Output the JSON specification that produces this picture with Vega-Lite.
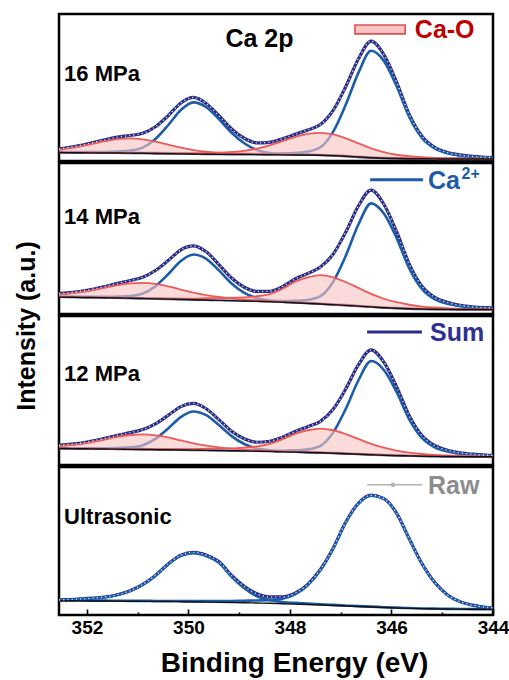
{
  "$schema": "https://vega.github.io/schema/vega-lite/v6.json",
  "background": "white",
  "padding": {"left": 13, "top": 12, "right": 1, "bottom": 45},
  "spacing": 2,
  "bounds": "flush",
  "config": {
    "view": {"stroke": "#000000", "strokeWidth": 2.5},
    "font": "Liberation Sans"
  },
  "datasets": {
    "xps": [
      {"panel": "16 MPa", "energy": 352.55, "background": 8.5, "ca1": 8.9, "ca2": 8.8, "cao1": 11.5, "cao2": 8.6, "sum": 12.3, "raw": 12.3},
      {"panel": "16 MPa", "energy": 352.4, "background": 8.4, "ca1": 8.9, "ca2": 8.7, "cao1": 12.4, "cao2": 8.5, "sum": 13.3, "raw": 13.3},
      {"panel": "16 MPa", "energy": 352.15, "background": 8.3, "ca1": 8.9, "ca2": 8.6, "cao1": 14.5, "cao2": 8.4, "sum": 15.5, "raw": 15.5},
      {"panel": "16 MPa", "energy": 351.9, "background": 8.2, "ca1": 9.0, "ca2": 8.5, "cao1": 17.2, "cao2": 8.3, "sum": 18.4, "raw": 18.4},
      {"panel": "16 MPa", "energy": 351.65, "background": 8.1, "ca1": 9.1, "ca2": 8.4, "cao1": 19.9, "cao2": 8.2, "sum": 21.3, "raw": 21.3},
      {"panel": "16 MPa", "energy": 351.4, "background": 8.0, "ca1": 9.6, "ca2": 8.3, "cao1": 22.0, "cao2": 8.1, "sum": 24.0, "raw": 24.0},
      {"panel": "16 MPa", "energy": 351.15, "background": 7.9, "ca1": 10.5, "ca2": 8.2, "cao1": 22.7, "cao2": 8.0, "sum": 25.7, "raw": 25.7},
      {"panel": "16 MPa", "energy": 350.9, "background": 7.8, "ca1": 13.5, "ca2": 8.1, "cao1": 21.8, "cao2": 7.9, "sum": 27.9, "raw": 27.9},
      {"panel": "16 MPa", "energy": 350.65, "background": 7.6, "ca1": 22.2, "ca2": 7.9, "cao1": 19.4, "cao2": 7.8, "sum": 34.5, "raw": 34.5},
      {"panel": "16 MPa", "energy": 350.4, "background": 7.4, "ca1": 36.0, "ca2": 7.7, "cao1": 16.4, "cao2": 7.7, "sum": 45.6, "raw": 45.6},
      {"panel": "16 MPa", "energy": 350.15, "background": 7.2, "ca1": 51.4, "ca2": 7.5, "cao1": 13.4, "cao2": 7.7, "sum": 58.4, "raw": 58.4},
      {"panel": "16 MPa", "energy": 349.9, "background": 7.0, "ca1": 59.0, "ca2": 7.3, "cao1": 11.0, "cao2": 7.7, "sum": 64.0, "raw": 64.0},
      {"panel": "16 MPa", "energy": 349.65, "background": 6.8, "ca1": 54.1, "ca2": 7.1, "cao1": 9.3, "cao2": 7.8, "sum": 57.9, "raw": 57.9},
      {"panel": "16 MPa", "energy": 349.4, "background": 6.7, "ca1": 42.1, "ca2": 7.0, "cao1": 8.3, "cao2": 8.3, "sum": 45.6, "raw": 45.6},
      {"panel": "16 MPa", "energy": 349.15, "background": 6.6, "ca1": 28.4, "ca2": 7.0, "cao1": 7.6, "cao2": 9.1, "sum": 32.3, "raw": 32.3},
      {"panel": "16 MPa", "energy": 348.9, "background": 6.5, "ca1": 17.9, "ca2": 7.0, "cao1": 7.2, "cao2": 10.3, "sum": 22.9, "raw": 22.9},
      {"panel": "16 MPa", "energy": 348.65, "background": 6.4, "ca1": 11.1, "ca2": 7.0, "cao1": 6.8, "cao2": 12.5, "sum": 18.2, "raw": 18.2},
      {"panel": "16 MPa", "energy": 348.4, "background": 6.3, "ca1": 8.1, "ca2": 7.2, "cao1": 6.6, "cao2": 15.8, "sum": 18.8, "raw": 18.8},
      {"panel": "16 MPa", "energy": 348.15, "background": 6.2, "ca1": 7.2, "ca2": 7.5, "cao1": 6.4, "cao2": 19.9, "sum": 22.4, "raw": 22.4},
      {"panel": "16 MPa", "energy": 347.9, "background": 6.1, "ca1": 6.7, "ca2": 8.1, "cao1": 6.2, "cao2": 24.1, "sum": 26.8, "raw": 26.8},
      {"panel": "16 MPa", "energy": 347.65, "background": 6.0, "ca1": 6.4, "ca2": 9.5, "cao1": 6.1, "cao2": 27.3, "sum": 31.3, "raw": 31.3},
      {"panel": "16 MPa", "energy": 347.4, "background": 5.8, "ca1": 6.1, "ca2": 13.8, "cao1": 5.9, "cao2": 28.3, "sum": 36.7, "raw": 36.7},
      {"panel": "16 MPa", "energy": 347.15, "background": 5.4, "ca1": 5.7, "ca2": 29.4, "cao1": 5.4, "cao2": 26.7, "sum": 51.0, "raw": 51.0},
      {"panel": "16 MPa", "energy": 346.9, "background": 4.8, "ca1": 5.0, "ca2": 56.8, "cao1": 4.8, "cao2": 22.8, "sum": 75.0, "raw": 75.0},
      {"panel": "16 MPa", "energy": 346.65, "background": 4.0, "ca1": 4.2, "ca2": 89.0, "cao1": 4.0, "cao2": 17.7, "sum": 102.9, "raw": 102.9},
      {"panel": "16 MPa", "energy": 346.4, "background": 3.3, "ca1": 3.5, "ca2": 111.0, "cao1": 3.3, "cao2": 12.8, "sum": 120.7, "raw": 120.7},
      {"panel": "16 MPa", "energy": 346.15, "background": 2.8, "ca1": 3.0, "ca2": 100.8, "cao1": 2.8, "cao2": 8.9, "sum": 107.1, "raw": 107.1},
      {"panel": "16 MPa", "energy": 345.9, "background": 2.5, "ca1": 2.7, "ca2": 75.5, "cao1": 2.5, "cao2": 6.3, "sum": 79.5, "raw": 79.5},
      {"panel": "16 MPa", "energy": 345.65, "background": 2.3, "ca1": 2.4, "ca2": 44.3, "cao1": 2.3, "cao2": 4.8, "sum": 46.9, "raw": 46.9},
      {"panel": "16 MPa", "energy": 345.4, "background": 2.2, "ca1": 2.3, "ca2": 23.2, "cao1": 2.2, "cao2": 3.8, "sum": 24.9, "raw": 24.9},
      {"panel": "16 MPa", "energy": 345.15, "background": 2.1, "ca1": 2.2, "ca2": 12.6, "cao1": 2.1, "cao2": 3.1, "sum": 13.7, "raw": 13.7},
      {"panel": "16 MPa", "energy": 344.9, "background": 2.0, "ca1": 2.1, "ca2": 7.8, "cao1": 2.0, "cao2": 2.7, "sum": 8.6, "raw": 8.6},
      {"panel": "16 MPa", "energy": 344.65, "background": 2.0, "ca1": 2.1, "ca2": 5.5, "cao1": 2.0, "cao2": 2.5, "sum": 6.1, "raw": 6.1},
      {"panel": "16 MPa", "energy": 344.4, "background": 2.0, "ca1": 2.1, "ca2": 4.2, "cao1": 2.0, "cao2": 2.3, "sum": 4.6, "raw": 4.6},
      {"panel": "16 MPa", "energy": 344.15, "background": 2.0, "ca1": 2.1, "ca2": 3.5, "cao1": 2.0, "cao2": 2.2, "sum": 3.8, "raw": 3.8},
      {"panel": "16 MPa", "energy": 344.0, "background": 2.0, "ca1": 2.1, "ca2": 3.2, "cao1": 2.0, "cao2": 2.1, "sum": 3.4, "raw": 3.4},

      {"panel": "14 MPa", "energy": 352.55, "background": 17.2, "ca1": 17.6, "ca2": 17.5, "cao1": 19.9, "cao2": 17.4, "sum": 20.8, "raw": 20.8},
      {"panel": "14 MPa", "energy": 352.4, "background": 17.1, "ca1": 17.5, "ca2": 17.4, "cao1": 20.5, "cao2": 17.3, "sum": 21.4, "raw": 21.4},
      {"panel": "14 MPa", "energy": 352.15, "background": 16.9, "ca1": 17.4, "ca2": 17.2, "cao1": 21.9, "cao2": 17.1, "sum": 22.9, "raw": 22.9},
      {"panel": "14 MPa", "energy": 351.9, "background": 16.7, "ca1": 17.4, "ca2": 17.0, "cao1": 23.9, "cao2": 16.9, "sum": 25.1, "raw": 25.1},
      {"panel": "14 MPa", "energy": 351.65, "background": 16.5, "ca1": 17.4, "ca2": 16.8, "cao1": 26.6, "cao2": 16.7, "sum": 28.0, "raw": 28.0},
      {"panel": "14 MPa", "energy": 351.4, "background": 16.3, "ca1": 17.7, "ca2": 16.6, "cao1": 29.3, "cao2": 16.5, "sum": 31.2, "raw": 31.2},
      {"panel": "14 MPa", "energy": 351.15, "background": 16.0, "ca1": 18.3, "ca2": 16.3, "cao1": 31.2, "cao2": 16.2, "sum": 34.0, "raw": 34.0},
      {"panel": "14 MPa", "energy": 350.9, "background": 15.7, "ca1": 20.8, "ca2": 16.0, "cao1": 31.7, "cao2": 16.0, "sum": 37.4, "raw": 37.4},
      {"panel": "14 MPa", "energy": 350.65, "background": 15.4, "ca1": 28.3, "ca2": 15.7, "cao1": 30.6, "cao2": 15.8, "sum": 44.2, "raw": 44.2},
      {"panel": "14 MPa", "energy": 350.4, "background": 15.1, "ca1": 40.4, "ca2": 15.4, "cao1": 28.1, "cao2": 15.7, "sum": 54.3, "raw": 54.3},
      {"panel": "14 MPa", "energy": 350.15, "background": 14.8, "ca1": 53.9, "ca2": 15.1, "cao1": 24.9, "cao2": 15.7, "sum": 65.2, "raw": 65.2},
      {"panel": "14 MPa", "energy": 349.9, "background": 14.5, "ca1": 60.5, "ca2": 14.8, "cao1": 21.7, "cao2": 15.7, "sum": 69.2, "raw": 69.2},
      {"panel": "14 MPa", "energy": 349.65, "background": 14.2, "ca1": 56.1, "ca2": 14.5, "cao1": 19.2, "cao2": 16.0, "sum": 63.2, "raw": 63.2},
      {"panel": "14 MPa", "energy": 349.4, "background": 13.9, "ca1": 44.3, "ca2": 14.2, "cao1": 17.3, "cao2": 16.2, "sum": 50.3, "raw": 50.3},
      {"panel": "14 MPa", "energy": 349.15, "background": 13.6, "ca1": 31.1, "ca2": 14.0, "cao1": 15.8, "cao2": 16.5, "sum": 36.6, "raw": 36.6},
      {"panel": "14 MPa", "energy": 348.9, "background": 13.2, "ca1": 21.5, "ca2": 13.7, "cao1": 14.6, "cao2": 17.0, "sum": 27.2, "raw": 27.2},
      {"panel": "14 MPa", "energy": 348.65, "background": 12.8, "ca1": 16.0, "ca2": 13.4, "cao1": 13.8, "cao2": 18.1, "sum": 22.9, "raw": 22.9},
      {"panel": "14 MPa", "energy": 348.4, "background": 12.4, "ca1": 13.8, "ca2": 13.2, "cao1": 13.0, "cao2": 20.3, "sum": 23.1, "raw": 23.1},
      {"panel": "14 MPa", "energy": 348.15, "background": 11.9, "ca1": 12.6, "ca2": 13.2, "cao1": 12.3, "cao2": 25.4, "sum": 27.8, "raw": 27.8},
      {"panel": "14 MPa", "energy": 347.9, "background": 11.4, "ca1": 11.9, "ca2": 13.4, "cao1": 11.7, "cao2": 32.8, "sum": 35.6, "raw": 35.6},
      {"panel": "14 MPa", "energy": 347.65, "background": 10.8, "ca1": 11.1, "ca2": 14.3, "cao1": 11.0, "cao2": 37.2, "sum": 41.2, "raw": 41.2},
      {"panel": "14 MPa", "energy": 347.4, "background": 10.2, "ca1": 10.4, "ca2": 18.1, "cao1": 10.3, "cao2": 39.5, "sum": 47.7, "raw": 47.7},
      {"panel": "14 MPa", "energy": 347.15, "background": 9.5, "ca1": 9.7, "ca2": 32.7, "cao1": 9.6, "cao2": 37.3, "sum": 60.8, "raw": 60.8},
      {"panel": "14 MPa", "energy": 346.9, "background": 8.8, "ca1": 9.0, "ca2": 59.3, "cao1": 8.9, "cao2": 32.5, "sum": 83.3, "raw": 83.3},
      {"panel": "14 MPa", "energy": 346.65, "background": 8.0, "ca1": 8.2, "ca2": 91.2, "cao1": 8.1, "cao2": 26.5, "sum": 110.0, "raw": 110.0},
      {"panel": "14 MPa", "energy": 346.4, "background": 7.2, "ca1": 7.4, "ca2": 112.5, "cao1": 7.3, "cao2": 20.4, "sum": 126.0, "raw": 126.0},
      {"panel": "14 MPa", "energy": 346.15, "background": 6.4, "ca1": 6.6, "ca2": 102.2, "cao1": 6.5, "cao2": 15.5, "sum": 111.6, "raw": 111.6},
      {"panel": "14 MPa", "energy": 345.9, "background": 5.8, "ca1": 6.0, "ca2": 77.4, "cao1": 5.9, "cao2": 12.0, "sum": 83.9, "raw": 83.9},
      {"panel": "14 MPa", "energy": 345.65, "background": 5.3, "ca1": 5.4, "ca2": 46.4, "cao1": 5.4, "cao2": 9.4, "sum": 50.7, "raw": 50.7},
      {"panel": "14 MPa", "energy": 345.4, "background": 5.0, "ca1": 5.1, "ca2": 25.5, "cao1": 5.1, "cao2": 7.6, "sum": 28.3, "raw": 28.3},
      {"panel": "14 MPa", "energy": 345.15, "background": 4.8, "ca1": 4.9, "ca2": 15.0, "cao1": 4.9, "cao2": 6.6, "sum": 17.0, "raw": 17.0},
      {"panel": "14 MPa", "energy": 344.9, "background": 4.7, "ca1": 4.8, "ca2": 10.4, "cao1": 4.8, "cao2": 5.9, "sum": 11.8, "raw": 11.8},
      {"panel": "14 MPa", "energy": 344.65, "background": 4.6, "ca1": 4.7, "ca2": 8.0, "cao1": 4.7, "cao2": 5.3, "sum": 8.9, "raw": 8.9},
      {"panel": "14 MPa", "energy": 344.4, "background": 4.5, "ca1": 4.6, "ca2": 6.6, "cao1": 4.6, "cao2": 5.0, "sum": 7.3, "raw": 7.3},
      {"panel": "14 MPa", "energy": 344.15, "background": 4.5, "ca1": 4.6, "ca2": 6.0, "cao1": 4.6, "cao2": 4.8, "sum": 6.5, "raw": 6.5},
      {"panel": "14 MPa", "energy": 344.0, "background": 4.5, "ca1": 4.6, "ca2": 5.7, "cao1": 4.6, "cao2": 4.8, "sum": 6.2, "raw": 6.2},

      {"panel": "12 MPa", "energy": 352.55, "background": 16.7, "ca1": 17.0, "ca2": 17.0, "cao1": 19.3, "cao2": 16.8, "sum": 20.0, "raw": 20.0},
      {"panel": "12 MPa", "energy": 352.4, "background": 16.6, "ca1": 17.0, "ca2": 16.9, "cao1": 19.8, "cao2": 16.7, "sum": 20.6, "raw": 20.6},
      {"panel": "12 MPa", "energy": 352.15, "background": 16.4, "ca1": 16.8, "ca2": 16.7, "cao1": 21.1, "cao2": 16.5, "sum": 21.9, "raw": 21.9},
      {"panel": "12 MPa", "energy": 351.9, "background": 16.3, "ca1": 16.9, "ca2": 16.6, "cao1": 23.2, "cao2": 16.4, "sum": 24.2, "raw": 24.2},
      {"panel": "12 MPa", "energy": 351.65, "background": 16.1, "ca1": 16.9, "ca2": 16.4, "cao1": 25.7, "cao2": 16.2, "sum": 26.9, "raw": 26.9},
      {"panel": "12 MPa", "energy": 351.4, "background": 16.0, "ca1": 17.2, "ca2": 16.3, "cao1": 28.4, "cao2": 16.1, "sum": 30.0, "raw": 30.0},
      {"panel": "12 MPa", "energy": 351.15, "background": 15.8, "ca1": 17.8, "ca2": 16.1, "cao1": 30.3, "cao2": 15.9, "sum": 32.7, "raw": 32.7},
      {"panel": "12 MPa", "energy": 350.9, "background": 15.7, "ca1": 20.0, "ca2": 16.0, "cao1": 31.0, "cao2": 15.9, "sum": 35.8, "raw": 35.8},
      {"panel": "12 MPa", "energy": 350.65, "background": 15.5, "ca1": 26.4, "ca2": 15.8, "cao1": 30.0, "cao2": 15.9, "sum": 41.6, "raw": 41.6},
      {"panel": "12 MPa", "energy": 350.4, "background": 15.4, "ca1": 36.9, "ca2": 15.7, "cao1": 27.8, "cao2": 15.9, "sum": 50.1, "raw": 50.1},
      {"panel": "12 MPa", "energy": 350.15, "background": 15.2, "ca1": 48.4, "ca2": 15.5, "cao1": 24.8, "cao2": 15.9, "sum": 59.0, "raw": 59.0},
      {"panel": "12 MPa", "energy": 349.9, "background": 15.0, "ca1": 54.0, "ca2": 15.3, "cao1": 21.9, "cao2": 16.0, "sum": 62.2, "raw": 62.2},
      {"panel": "12 MPa", "energy": 349.65, "background": 14.8, "ca1": 50.3, "ca2": 15.1, "cao1": 19.5, "cao2": 16.3, "sum": 56.8, "raw": 56.8},
      {"panel": "12 MPa", "energy": 349.4, "background": 14.6, "ca1": 40.3, "ca2": 14.9, "cao1": 17.8, "cao2": 16.6, "sum": 45.8, "raw": 45.8},
      {"panel": "12 MPa", "energy": 349.15, "background": 14.4, "ca1": 29.2, "ca2": 14.8, "cao1": 16.5, "cao2": 16.8, "sum": 34.1, "raw": 34.1},
      {"panel": "12 MPa", "energy": 348.9, "background": 14.2, "ca1": 21.2, "ca2": 14.7, "cao1": 15.6, "cao2": 17.6, "sum": 26.5, "raw": 26.5},
      {"panel": "12 MPa", "energy": 348.65, "background": 13.9, "ca1": 16.6, "ca2": 14.5, "cao1": 14.8, "cao2": 18.8, "sum": 23.0, "raw": 23.0},
      {"panel": "12 MPa", "energy": 348.4, "background": 13.6, "ca1": 14.8, "ca2": 14.4, "cao1": 14.2, "cao2": 21.4, "sum": 24.0, "raw": 24.0},
      {"panel": "12 MPa", "energy": 348.15, "background": 13.3, "ca1": 13.9, "ca2": 14.4, "cao1": 13.7, "cao2": 26.0, "sum": 28.1, "raw": 28.1},
      {"panel": "12 MPa", "energy": 347.9, "background": 13.0, "ca1": 13.4, "ca2": 14.8, "cao1": 13.2, "cao2": 31.5, "sum": 33.9, "raw": 33.9},
      {"panel": "12 MPa", "energy": 347.65, "background": 12.7, "ca1": 13.0, "ca2": 15.8, "cao1": 12.9, "cao2": 35.1, "sum": 38.7, "raw": 38.7},
      {"panel": "12 MPa", "energy": 347.4, "background": 12.3, "ca1": 12.5, "ca2": 19.4, "cao1": 12.4, "cao2": 36.7, "sum": 44.1, "raw": 44.1},
      {"panel": "12 MPa", "energy": 347.15, "background": 11.9, "ca1": 12.1, "ca2": 32.7, "cao1": 12.0, "cao2": 35.1, "sum": 56.2, "raw": 56.2},
      {"panel": "12 MPa", "energy": 346.9, "background": 11.4, "ca1": 11.6, "ca2": 56.8, "cao1": 11.5, "cao2": 31.2, "sum": 76.9, "raw": 76.9},
      {"panel": "12 MPa", "energy": 346.65, "background": 10.9, "ca1": 11.1, "ca2": 85.6, "cao1": 11.0, "cao2": 26.3, "sum": 101.3, "raw": 101.3},
      {"panel": "12 MPa", "energy": 346.4, "background": 10.4, "ca1": 10.6, "ca2": 105.0, "cao1": 10.5, "cao2": 21.4, "sum": 116.3, "raw": 116.3},
      {"panel": "12 MPa", "energy": 346.15, "background": 9.9, "ca1": 10.1, "ca2": 96.0, "cao1": 10.0, "cao2": 17.5, "sum": 103.9, "raw": 103.9},
      {"panel": "12 MPa", "energy": 345.9, "background": 9.5, "ca1": 9.7, "ca2": 73.8, "cao1": 9.6, "cao2": 14.6, "sum": 79.2, "raw": 79.2},
      {"panel": "12 MPa", "energy": 345.65, "background": 9.2, "ca1": 9.4, "ca2": 46.1, "cao1": 9.3, "cao2": 12.6, "sum": 49.8, "raw": 49.8},
      {"panel": "12 MPa", "energy": 345.4, "background": 8.9, "ca1": 9.1, "ca2": 27.3, "cao1": 9.0, "cao2": 11.1, "sum": 29.8, "raw": 29.8},
      {"panel": "12 MPa", "energy": 345.15, "background": 8.7, "ca1": 8.9, "ca2": 17.9, "cao1": 8.8, "cao2": 10.2, "sum": 19.7, "raw": 19.7},
      {"panel": "12 MPa", "energy": 344.9, "background": 8.6, "ca1": 8.7, "ca2": 13.7, "cao1": 8.7, "cao2": 9.6, "sum": 14.9, "raw": 14.9},
      {"panel": "12 MPa", "energy": 344.65, "background": 8.5, "ca1": 8.6, "ca2": 11.5, "cao1": 8.6, "cao2": 9.1, "sum": 12.3, "raw": 12.3},
      {"panel": "12 MPa", "energy": 344.4, "background": 8.4, "ca1": 8.5, "ca2": 10.3, "cao1": 8.5, "cao2": 8.8, "sum": 10.9, "raw": 10.9},
      {"panel": "12 MPa", "energy": 344.15, "background": 8.3, "ca1": 8.4, "ca2": 9.6, "cao1": 8.4, "cao2": 8.5, "sum": 10.0, "raw": 10.0},
      {"panel": "12 MPa", "energy": 344.0, "background": 8.3, "ca1": 8.4, "ca2": 9.3, "cao1": 8.4, "cao2": 8.5, "sum": 9.7, "raw": 9.7},

      {"panel": "Ultrasonic", "energy": 352.55, "background": 14.5, "ca1": 15.0, "ca2": 14.7, "sum": 15.2, "raw": 15.2},
      {"panel": "Ultrasonic", "energy": 352.4, "background": 14.4, "ca1": 15.2, "ca2": 14.7, "sum": 15.5, "raw": 15.5},
      {"panel": "Ultrasonic", "energy": 352.15, "background": 14.3, "ca1": 15.9, "ca2": 14.6, "sum": 16.2, "raw": 16.2},
      {"panel": "Ultrasonic", "energy": 351.9, "background": 14.2, "ca1": 16.7, "ca2": 14.5, "sum": 17.0, "raw": 17.0},
      {"panel": "Ultrasonic", "energy": 351.65, "background": 14.1, "ca1": 17.8, "ca2": 14.5, "sum": 18.2, "raw": 18.2},
      {"panel": "Ultrasonic", "energy": 351.4, "background": 14.0, "ca1": 20.1, "ca2": 14.4, "sum": 20.5, "raw": 20.5},
      {"panel": "Ultrasonic", "energy": 351.15, "background": 13.9, "ca1": 24.1, "ca2": 14.3, "sum": 24.5, "raw": 24.5},
      {"panel": "Ultrasonic", "energy": 350.9, "background": 13.8, "ca1": 30.5, "ca2": 14.3, "sum": 31.0, "raw": 31.0},
      {"panel": "Ultrasonic", "energy": 350.65, "background": 13.7, "ca1": 39.5, "ca2": 14.2, "sum": 40.0, "raw": 40.0},
      {"panel": "Ultrasonic", "energy": 350.4, "background": 13.6, "ca1": 50.9, "ca2": 14.2, "sum": 51.5, "raw": 51.5},
      {"panel": "Ultrasonic", "energy": 350.15, "background": 13.4, "ca1": 59.8, "ca2": 14.1, "sum": 60.5, "raw": 60.5},
      {"panel": "Ultrasonic", "energy": 349.9, "background": 13.2, "ca1": 62.5, "ca2": 14.0, "sum": 63.3, "raw": 63.3},
      {"panel": "Ultrasonic", "energy": 349.65, "background": 13.0, "ca1": 59.5, "ca2": 14.0, "sum": 60.5, "raw": 60.5},
      {"panel": "Ultrasonic", "energy": 349.4, "background": 12.8, "ca1": 52.8, "ca2": 14.0, "sum": 54.0, "raw": 54.0},
      {"panel": "Ultrasonic", "energy": 349.15, "background": 12.6, "ca1": 38.5, "ca2": 14.1, "sum": 40.0, "raw": 40.0},
      {"panel": "Ultrasonic", "energy": 348.9, "background": 12.4, "ca1": 27.0, "ca2": 14.4, "sum": 29.0, "raw": 29.0},
      {"panel": "Ultrasonic", "energy": 348.65, "background": 12.1, "ca1": 18.9, "ca2": 14.7, "sum": 21.5, "raw": 21.5},
      {"panel": "Ultrasonic", "energy": 348.4, "background": 11.8, "ca1": 14.8, "ca2": 15.3, "sum": 18.3, "raw": 18.3},
      {"panel": "Ultrasonic", "energy": 348.15, "background": 11.4, "ca1": 13.2, "ca2": 16.5, "sum": 18.3, "raw": 18.3},
      {"panel": "Ultrasonic", "energy": 347.9, "background": 11.0, "ca1": 12.2, "ca2": 20.8, "sum": 22.0, "raw": 22.0},
      {"panel": "Ultrasonic", "energy": 347.65, "background": 10.6, "ca1": 11.5, "ca2": 30.1, "sum": 31.0, "raw": 31.0},
      {"panel": "Ultrasonic", "energy": 347.4, "background": 10.1, "ca1": 10.8, "ca2": 45.3, "sum": 46.0, "raw": 46.0},
      {"panel": "Ultrasonic", "energy": 347.15, "background": 9.6, "ca1": 10.2, "ca2": 66.9, "sum": 67.5, "raw": 67.5},
      {"panel": "Ultrasonic", "energy": 346.9, "background": 9.1, "ca1": 9.6, "ca2": 93.5, "sum": 94.0, "raw": 94.0},
      {"panel": "Ultrasonic", "energy": 346.65, "background": 8.6, "ca1": 9.0, "ca2": 112.6, "sum": 113.0, "raw": 113.0},
      {"panel": "Ultrasonic", "energy": 346.4, "background": 8.1, "ca1": 8.5, "ca2": 120.6, "sum": 121.0, "raw": 121.0},
      {"panel": "Ultrasonic", "energy": 346.15, "background": 7.6, "ca1": 7.9, "ca2": 117.2, "sum": 117.5, "raw": 117.5},
      {"panel": "Ultrasonic", "energy": 345.9, "background": 7.1, "ca1": 7.4, "ca2": 102.7, "sum": 103.0, "raw": 103.0},
      {"panel": "Ultrasonic", "energy": 345.65, "background": 6.7, "ca1": 7.0, "ca2": 76.7, "sum": 77.0, "raw": 77.0},
      {"panel": "Ultrasonic", "energy": 345.4, "background": 6.4, "ca1": 6.6, "ca2": 51.8, "sum": 52.0, "raw": 52.0},
      {"panel": "Ultrasonic", "energy": 345.15, "background": 6.2, "ca1": 6.4, "ca2": 32.8, "sum": 33.0, "raw": 33.0},
      {"panel": "Ultrasonic", "energy": 344.9, "background": 6.0, "ca1": 6.2, "ca2": 20.3, "sum": 20.5, "raw": 20.5},
      {"panel": "Ultrasonic", "energy": 344.65, "background": 5.9, "ca1": 6.1, "ca2": 13.3, "sum": 13.5, "raw": 13.5},
      {"panel": "Ultrasonic", "energy": 344.4, "background": 5.8, "ca1": 5.9, "ca2": 9.9, "sum": 10.0, "raw": 10.0},
      {"panel": "Ultrasonic", "energy": 344.15, "background": 5.8, "ca1": 5.9, "ca2": 7.7, "sum": 7.8, "raw": 7.8},
      {"panel": "Ultrasonic", "energy": 344.0, "background": 5.8, "ca1": 5.9, "ca2": 7.1, "sum": 7.2, "raw": 7.2}
    ]
  },
  "vconcat": [
    {
      "width": 434,
      "height": 147,
      "data": {"name": "xps"},
      "transform": [{"filter": {"field": "panel", "equal": "16 MPa"}}],
      "encoding": {
        "x": {"field": "energy", "type": "quantitative", "scale": {"domain": [344, 352.55], "reverse": true, "nice": false, "zero": false}, "axis": null}
      },
      "layer": [
        {"mark": {"type": "line", "interpolate": "monotone", "color": "#2b2d85", "strokeWidth": 3.2},
         "encoding": {"y": {"field": "sum", "type": "quantitative", "scale": {"domain": [0, 148], "nice": false, "zero": false}, "axis": null}}},
        {"mark": {"type": "line", "interpolate": "monotone", "color": "#1c5ca8", "strokeWidth": 2.6},
         "encoding": {"y": {"field": "ca1", "type": "quantitative", "axis": null}}},
        {"mark": {"type": "line", "interpolate": "monotone", "color": "#1c5ca8", "strokeWidth": 2.6},
         "encoding": {"y": {"field": "ca2", "type": "quantitative", "axis": null}}},
        {"mark": {"type": "area", "interpolate": "monotone", "color": "#f8c4c4", "opacity": 0.62},
         "encoding": {"y": {"field": "cao1", "type": "quantitative", "axis": null}, "y2": {"field": "background"}}},
        {"mark": {"type": "area", "interpolate": "monotone", "color": "#f8c4c4", "opacity": 0.62},
         "encoding": {"y": {"field": "cao2", "type": "quantitative", "axis": null}, "y2": {"field": "background"}}},
        {"mark": {"type": "line", "interpolate": "monotone", "color": "#ec5a5a", "strokeWidth": 1.8},
         "encoding": {"y": {"field": "cao1", "type": "quantitative", "axis": null}}},
        {"mark": {"type": "line", "interpolate": "monotone", "color": "#ec5a5a", "strokeWidth": 1.8},
         "encoding": {"y": {"field": "cao2", "type": "quantitative", "axis": null}}},
        {"mark": {"type": "line", "interpolate": "monotone", "color": "#111111", "strokeWidth": 1.4},
         "encoding": {"y": {"field": "background", "type": "quantitative", "axis": null}}},
        {"mark": {"type": "line", "interpolate": "monotone", "color": "#dcdce6", "strokeWidth": 1.4, "strokeDash": [1.2, 3]},
         "encoding": {"y": {"field": "raw", "type": "quantitative", "axis": null}}},
        {"transform": [{"filter": "datum.energy === 352.55"}],
         "mark": {"type": "text", "align": "left", "baseline": "alphabetic", "font": "Liberation Sans", "fontWeight": "bold", "fontSize": 22, "color": "#000000"},
         "encoding": {"x": {"datum": 352.45}, "y": {"datum": 81}, "text": {"value": "16 MPa"}}},
        {"transform": [{"filter": "datum.energy === 352.55"}],
         "mark": {"type": "text", "align": "center", "baseline": "alphabetic", "font": "Liberation Sans", "fontWeight": "bold", "fontSize": 25, "color": "#000000"},
         "encoding": {"x": {"datum": 348.6}, "y": {"datum": 114.3}, "text": {"value": "Ca 2p"}}},
        {"transform": [{"filter": "datum.energy === 352.55"}],
         "mark": {"type": "rect", "fill": "#f8c4c4", "stroke": "#e0504f", "strokeWidth": 1.6},
         "encoding": {"x": {"datum": 346.72}, "x2": {"datum": 345.73}, "y": {"datum": 137}, "y2": {"datum": 128}}},
        {"transform": [{"filter": "datum.energy === 352.55"}],
         "mark": {"type": "text", "align": "left", "baseline": "alphabetic", "font": "Liberation Sans", "fontWeight": "bold", "fontSize": 25, "color": "#c00000"},
         "encoding": {"x": {"datum": 345.54}, "y": {"datum": 124}, "text": {"value": "Ca-O"}}}
      ]
    },
    {
      "width": 434,
      "height": 151,
      "data": {"name": "xps"},
      "transform": [{"filter": {"field": "panel", "equal": "14 MPa"}}],
      "encoding": {
        "x": {"field": "energy", "type": "quantitative", "scale": {"domain": [344, 352.55], "reverse": true, "nice": false, "zero": false}, "axis": null}
      },
      "layer": [
        {"mark": {"type": "line", "interpolate": "monotone", "color": "#2b2d85", "strokeWidth": 3.2},
         "encoding": {"y": {"field": "sum", "type": "quantitative", "scale": {"domain": [0, 153.5], "nice": false, "zero": false}, "axis": null}}},
        {"mark": {"type": "line", "interpolate": "monotone", "color": "#1c5ca8", "strokeWidth": 2.6},
         "encoding": {"y": {"field": "ca1", "type": "quantitative", "axis": null}}},
        {"mark": {"type": "line", "interpolate": "monotone", "color": "#1c5ca8", "strokeWidth": 2.6},
         "encoding": {"y": {"field": "ca2", "type": "quantitative", "axis": null}}},
        {"mark": {"type": "area", "interpolate": "monotone", "color": "#f8c4c4", "opacity": 0.62},
         "encoding": {"y": {"field": "cao1", "type": "quantitative", "axis": null}, "y2": {"field": "background"}}},
        {"mark": {"type": "area", "interpolate": "monotone", "color": "#f8c4c4", "opacity": 0.62},
         "encoding": {"y": {"field": "cao2", "type": "quantitative", "axis": null}, "y2": {"field": "background"}}},
        {"mark": {"type": "line", "interpolate": "monotone", "color": "#ec5a5a", "strokeWidth": 1.8},
         "encoding": {"y": {"field": "cao1", "type": "quantitative", "axis": null}}},
        {"mark": {"type": "line", "interpolate": "monotone", "color": "#ec5a5a", "strokeWidth": 1.8},
         "encoding": {"y": {"field": "cao2", "type": "quantitative", "axis": null}}},
        {"mark": {"type": "line", "interpolate": "monotone", "color": "#111111", "strokeWidth": 1.4},
         "encoding": {"y": {"field": "background", "type": "quantitative", "axis": null}}},
        {"mark": {"type": "line", "interpolate": "monotone", "color": "#dcdce6", "strokeWidth": 1.4, "strokeDash": [1.2, 3]},
         "encoding": {"y": {"field": "raw", "type": "quantitative", "axis": null}}},
        {"transform": [{"filter": "datum.energy === 352.55"}],
         "mark": {"type": "text", "angle": 270, "align": "center", "baseline": "alphabetic", "font": "Liberation Sans", "fontWeight": "bold", "fontSize": 25, "color": "#000000"},
         "encoding": {"x": {"datum": 353.02}, "y": {"datum": -12.2}, "text": {"value": "Intensity (a.u.)"}}},
        {"transform": [{"filter": "datum.energy === 352.55"}],
         "mark": {"type": "text", "align": "left", "baseline": "alphabetic", "font": "Liberation Sans", "fontWeight": "bold", "fontSize": 22, "color": "#000000"},
         "encoding": {"x": {"datum": 352.45}, "y": {"datum": 91.5}, "text": {"value": "14 MPa"}}},
        {"transform": [{"filter": "datum.energy === 352.55"}],
         "mark": {"type": "rule", "color": "#1c5ca8", "strokeWidth": 3},
         "encoding": {"x": {"datum": 346.42}, "x2": {"datum": 345.38}, "y": {"datum": 136.5}}},
        {"transform": [{"filter": "datum.energy === 352.55"}],
         "mark": {"type": "text", "align": "left", "baseline": "alphabetic", "font": "Liberation Sans", "fontWeight": "bold", "fontSize": 25, "color": "#1c5ca8"},
         "encoding": {"x": {"datum": 345.28}, "y": {"datum": 127.5}, "text": {"value": "Ca"}}},
        {"transform": [{"filter": "datum.energy === 352.55"}],
         "mark": {"type": "text", "align": "left", "baseline": "alphabetic", "font": "Liberation Sans", "fontWeight": "bold", "fontSize": 16, "color": "#1c5ca8"},
         "encoding": {"x": {"datum": 344.62}, "y": {"datum": 137.5}, "text": {"value": "2+"}}}
      ]
    },
    {
      "width": 434,
      "height": 149,
      "data": {"name": "xps"},
      "transform": [{"filter": {"field": "panel", "equal": "12 MPa"}}],
      "encoding": {
        "x": {"field": "energy", "type": "quantitative", "scale": {"domain": [344, 352.55], "reverse": true, "nice": false, "zero": false}, "axis": null}
      },
      "layer": [
        {"mark": {"type": "line", "interpolate": "monotone", "color": "#2b2d85", "strokeWidth": 3.2},
         "encoding": {"y": {"field": "sum", "type": "quantitative", "scale": {"domain": [0, 150.5], "nice": false, "zero": false}, "axis": null}}},
        {"mark": {"type": "line", "interpolate": "monotone", "color": "#1c5ca8", "strokeWidth": 2.6},
         "encoding": {"y": {"field": "ca1", "type": "quantitative", "axis": null}}},
        {"mark": {"type": "line", "interpolate": "monotone", "color": "#1c5ca8", "strokeWidth": 2.6},
         "encoding": {"y": {"field": "ca2", "type": "quantitative", "axis": null}}},
        {"mark": {"type": "area", "interpolate": "monotone", "color": "#f8c4c4", "opacity": 0.62},
         "encoding": {"y": {"field": "cao1", "type": "quantitative", "axis": null}, "y2": {"field": "background"}}},
        {"mark": {"type": "area", "interpolate": "monotone", "color": "#f8c4c4", "opacity": 0.62},
         "encoding": {"y": {"field": "cao2", "type": "quantitative", "axis": null}, "y2": {"field": "background"}}},
        {"mark": {"type": "line", "interpolate": "monotone", "color": "#ec5a5a", "strokeWidth": 1.8},
         "encoding": {"y": {"field": "cao1", "type": "quantitative", "axis": null}}},
        {"mark": {"type": "line", "interpolate": "monotone", "color": "#ec5a5a", "strokeWidth": 1.8},
         "encoding": {"y": {"field": "cao2", "type": "quantitative", "axis": null}}},
        {"mark": {"type": "line", "interpolate": "monotone", "color": "#111111", "strokeWidth": 1.4},
         "encoding": {"y": {"field": "background", "type": "quantitative", "axis": null}}},
        {"mark": {"type": "line", "interpolate": "monotone", "color": "#dcdce6", "strokeWidth": 1.4, "strokeDash": [1.2, 3]},
         "encoding": {"y": {"field": "raw", "type": "quantitative", "axis": null}}},
        {"transform": [{"filter": "datum.energy === 352.55"}],
         "mark": {"type": "text", "align": "left", "baseline": "alphabetic", "font": "Liberation Sans", "fontWeight": "bold", "fontSize": 22, "color": "#000000"},
         "encoding": {"x": {"datum": 352.45}, "y": {"datum": 85}, "text": {"value": "12 MPa"}}},
        {"transform": [{"filter": "datum.energy === 352.55"}],
         "mark": {"type": "rule", "color": "#2b2d85", "strokeWidth": 3},
         "encoding": {"x": {"datum": 346.48}, "x2": {"datum": 345.4}, "y": {"datum": 134.3}}},
        {"transform": [{"filter": "datum.energy === 352.55"}],
         "mark": {"type": "text", "align": "left", "baseline": "alphabetic", "font": "Liberation Sans", "fontWeight": "bold", "fontSize": 25, "color": "#2e3192"},
         "encoding": {"x": {"datum": 345.24}, "y": {"datum": 125.7}, "text": {"value": "Sum"}}}
      ]
    },
    {
      "width": 434,
      "height": 148,
      "data": {"name": "xps"},
      "transform": [{"filter": {"field": "panel", "equal": "Ultrasonic"}}],
      "resolve": {"axis": {"x": "independent"}},
      "encoding": {
        "x": {"field": "energy", "type": "quantitative", "scale": {"domain": [344, 352.55], "reverse": true, "nice": false, "zero": false}, "axis": null}
      },
      "layer": [
        {"mark": {"type": "line", "interpolate": "monotone", "color": "#2b2d85", "strokeWidth": 3.2},
         "encoding": {
           "x": {
             "field": "energy", "type": "quantitative",
             "axis": {
               "orient": "bottom",
               "values": [344, 346, 348, 350, 352],
               "format": "d",
               "domain": false,
               "grid": false,
               "ticks": true,
               "tickColor": "#000000",
               "tickWidth": 1.6,
               "tickSize": -6,
               "labelFont": "Liberation Sans",
               "labelFontWeight": "bold",
               "labelFontSize": 19,
               "labelColor": "#000000",
               "labelPadding": 9,
               "labelFlush": false,
               "labelOverlap": false,
               "title": "Binding Energy (eV)",
               "titleFont": "Liberation Sans",
               "titleFontWeight": "bold",
               "titleFontSize": 28,
               "titleColor": "#000000",
               "titleX": 235,
               "titleY": 56,
               "titleAlign": "center",
               "titleBaseline": "alphabetic"
             }
           },
           "y": {"field": "sum", "type": "quantitative", "scale": {"domain": [0, 149.5], "nice": false, "zero": false}, "axis": null}}},
        {"mark": {"type": "line", "interpolate": "monotone", "color": "#1c5ca8", "strokeWidth": 2.6},
         "encoding": {"y": {"field": "ca1", "type": "quantitative", "axis": null}}},
        {"mark": {"type": "line", "interpolate": "monotone", "color": "#1c5ca8", "strokeWidth": 2.6},
         "encoding": {"y": {"field": "ca2", "type": "quantitative", "axis": null}}},
        {"mark": {"type": "line", "interpolate": "monotone", "color": "#111111", "strokeWidth": 1.4},
         "encoding": {
           "x": {
             "field": "energy", "type": "quantitative",
             "axis": {"orient": "bottom", "values": [345, 347, 349, 351], "labels": false, "domain": false, "grid": false,
                      "ticks": true, "tickColor": "#000000", "tickWidth": 1.6, "tickSize": -3, "title": null}
           },
           "y": {"field": "background", "type": "quantitative", "axis": null}}},
        {"mark": {"type": "line", "interpolate": "monotone", "color": "#dcdce6", "strokeWidth": 1.4, "strokeDash": [1.2, 3]},
         "encoding": {"y": {"field": "raw", "type": "quantitative", "axis": null}}},
        {"transform": [{"filter": "datum.energy === 352.55"}],
         "mark": {"type": "text", "align": "left", "baseline": "alphabetic", "font": "Liberation Sans", "fontWeight": "bold", "fontSize": 22, "color": "#000000"},
         "encoding": {"x": {"datum": 352.45}, "y": {"datum": 91.5}, "text": {"value": "Ultrasonic"}}},
        {"transform": [{"filter": "datum.energy === 352.55"}],
         "mark": {"type": "rule", "color": "#b4b4b4", "strokeWidth": 1.5},
         "encoding": {"x": {"datum": 346.48}, "x2": {"datum": 345.4}, "y": {"datum": 131.5}}},
        {"transform": [{"filter": "datum.energy === 352.55"}],
         "mark": {"type": "point", "shape": "circle", "filled": true, "color": "#b4b4b4", "size": 22, "opacity": 1},
         "encoding": {"x": {"datum": 345.97}, "y": {"datum": 131.5}}},
        {"transform": [{"filter": "datum.energy === 352.55"}],
         "mark": {"type": "text", "align": "left", "baseline": "alphabetic", "font": "Liberation Sans", "fontWeight": "bold", "fontSize": 25, "color": "#8c8c8c"},
         "encoding": {"x": {"datum": 345.28}, "y": {"datum": 122.5}, "text": {"value": "Raw"}}}
      ]
    }
  ]
}
